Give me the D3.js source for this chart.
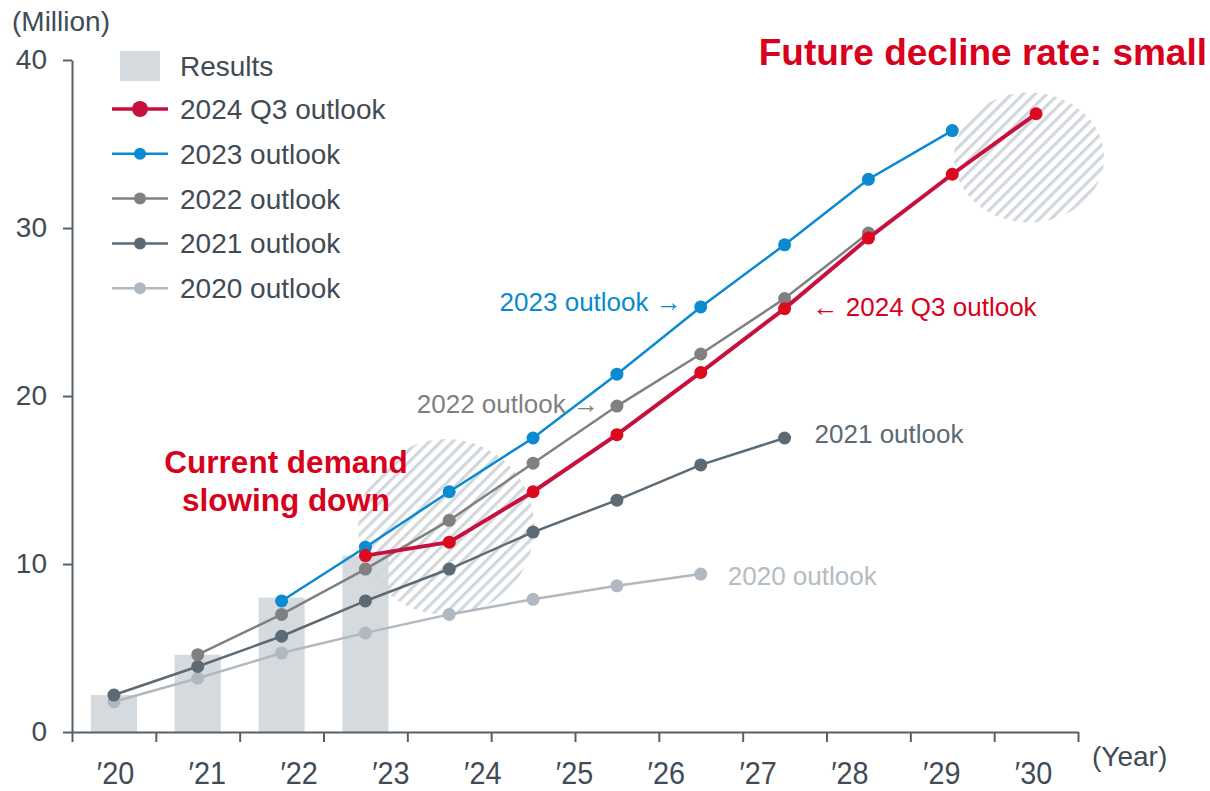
<!DOCTYPE html>
<html>
<head>
<meta charset="utf-8">
<script src="https://cdn.jsdelivr.net/npm/d3@7.9.0/dist/d3.min.js"></script>
<style>
  body { margin: 0; background: #fff; }
  svg { display: block; font-family: "Liberation Sans", Arial, sans-serif; }
</style>
</head>
<body>
<svg id="chart" width="1210" height="791"></svg>
<script>
// x slots (the chart has 12 slots, tick labels are spread over them)
const slots = [2020, 2021, 2022, 2023, 2024, 2025, 2026, 2027, 2028, 2029, 2030, 2031];
const tickLabels = ["′20", "′21", "′22", "′23", "′24", "′25", "′26", "′27", "′28", "′29", "′30"];
const yTicks = [0, 10, 20, 30, 40];

// results (bars), from 2020
const results = [2.2, 4.6, 8.0, 10.5];

// outlook series; each starts at the given slot
const outlook2024Q3 = [10.5, 11.3, 14.3, 17.7, 21.4, 25.2, 29.4, 33.2, 36.8]; // from 2023
const outlook2023 = [7.8, 11.0, 14.3, 17.5, 21.3, 25.3, 29.0, 32.9, 35.8];    // from 2022
const outlook2022 = [4.6, 7.0, 9.7, 12.6, 16.0, 19.4, 22.5, 25.8, 29.7];      // from 2021
const outlook2021 = [2.2, 3.9, 5.7, 7.8, 9.7, 11.9, 13.8, 15.9, 17.5];        // from 2020
const outlook2020 = [1.8, 3.2, 4.7, 5.9, 7.0, 7.9, 8.7, 9.4];                 // from 2020

const red = "#d9001b";
const textColor = "#414b55";
const axisColor = "#56606a";

const series = [
  { name: "2020 outlook", start: 2020, values: outlook2020, line: "#b0b9c1", dot: "#b0b9c1", w: 2.5, r: 6.5 },
  { name: "2021 outlook", start: 2020, values: outlook2021, line: "#5b6a74", dot: "#5b6a74", w: 2.5, r: 6.5 },
  { name: "2022 outlook", start: 2021, values: outlook2022, line: "#808080", dot: "#808080", w: 2.5, r: 6.5 },
  { name: "2023 outlook", start: 2022, values: outlook2023, line: "#0a8ad0", dot: "#0a8ad0", w: 2.5, r: 6.5 },
  { name: "2024 Q3 outlook", start: 2023, values: outlook2024Q3, line: "#c8103e", dot: "#dc0a1e", w: 4, r: 6.5 }
];
series.forEach(s => {
  s.points = s.values.map((v, i) => ({ year: s.start + i, value: v }));
});
const byName = Object.fromEntries(series.map(s => [s.name, s]));

const svg = d3.select("#chart");

const x = d3.scaleBand().domain(slots).range([72, 1078]).paddingInner(0.45).paddingOuter(0.225);
const xc = d => x(d) + x.bandwidth() / 2;
const xEdge = d3.scaleLinear().domain([0, slots.length]).range([72, 1078]);
const xLabel = d3.scalePoint().domain(tickLabels).range([115, 1033]);
const y = d3.scaleLinear().domain([0, 40]).range([732, 60]);

// hatch pattern
const defs = svg.append("defs");
defs.append("pattern")
  .attr("id", "hatch")
  .attr("patternUnits", "userSpaceOnUse")
  .attr("width", 8.3)
  .attr("height", 8.3)
  .attr("patternTransform", "rotate(45)")
  .append("rect")
  .attr("width", 3.2)
  .attr("height", 8.3)
  .attr("fill", "#d2d7dc");

// bars
svg.append("g").selectAll("rect")
  .data(results)
  .join("rect")
  .attr("x", (d, i) => x(slots[i]))
  .attr("width", x.bandwidth())
  .attr("y", d => y(d))
  .attr("height", d => y(0) - y(d))
  .attr("fill", "#d5dade");

// hatched highlight areas
svg.append("ellipse")
  .attr("cx", xc(2024) - 3).attr("cy", y(12.2))
  .attr("rx", 88).attr("ry", 88)
  .attr("fill", "url(#hatch)");
svg.append("ellipse")
  .attr("cx", xc(2031) - 7).attr("cy", y(34.2))
  .attr("rx", 75).attr("ry", 65)
  .attr("fill", "url(#hatch)");

// axes
const yAxis = svg.append("g")
  .attr("transform", "translate(72,0)")
  .call(d3.axisLeft(y).tickValues(yTicks).tickSize(9).tickSizeOuter(0).tickPadding(16));
yAxis.selectAll("text").attr("font-size", 28).attr("fill", textColor).attr("font-family", null);

const xAxis = svg.append("g")
  .attr("transform", "translate(0,732)")
  .call(d3.axisBottom(xEdge).tickValues(d3.range(slots.length + 1)).tickSize(10).tickSizeOuter(0).tickFormat(""));

const xLabels = svg.append("g")
  .attr("transform", "translate(0,732)")
  .call(d3.axisBottom(xLabel).tickSize(0).tickPadding(29));
xLabels.select(".domain").remove();
xLabels.selectAll("text")
  .attr("font-size", 32)
  .attr("font-family", null)
  .attr("fill", textColor)
  .attr("transform", "scale(0.9,1)");

svg.selectAll(".domain, .tick line").attr("stroke", axisColor).attr("stroke-width", 2);

svg.append("text").attr("x", 12).attr("y", 31)
  .attr("font-size", 28).attr("fill", textColor).text("(Million)");
svg.append("text").attr("x", 1092).attr("y", 766)
  .attr("font-size", 28).attr("fill", textColor).text("(Year)");

// lines and dots
const line = d3.line().x(d => xc(d.year)).y(d => y(d.value));
series.forEach(s => {
  const g = svg.append("g");
  g.append("path")
    .datum(s.points)
    .attr("fill", "none")
    .attr("stroke", s.line)
    .attr("stroke-width", s.w)
    .attr("d", line);
  g.selectAll("circle")
    .data(s.points)
    .join("circle")
    .attr("cx", d => xc(d.year))
    .attr("cy", d => y(d.value))
    .attr("r", s.r)
    .attr("fill", s.dot);
});

// legend
const legend = svg.append("g");
legend.append("rect").attr("x", 120).attr("y", 51).attr("width", 40).attr("height", 30).attr("fill", "#d5dade");
legend.append("text").attr("x", 180).attr("y", 76).attr("font-size", 28).attr("fill", textColor).text("Results");
const legendOrder = ["2024 Q3 outlook", "2023 outlook", "2022 outlook", "2021 outlook", "2020 outlook"];
legendOrder.forEach((name, i) => {
  const s = byName[name];
  const cy = 109 + i * 44.8;
  const big = name === "2024 Q3 outlook";
  legend.append("line").attr("x1", 112).attr("x2", 168).attr("y1", cy).attr("y2", cy)
    .attr("stroke", s.line).attr("stroke-width", big ? 3.5 : 2.5);
  legend.append("circle").attr("cx", 140).attr("cy", cy).attr("r", big ? 8 : 6)
    .attr("fill", big ? s.line : s.dot);
  legend.append("text").attr("x", 180).attr("y", cy + 10).attr("font-size", 28)
    .attr("fill", textColor).text(name);
});

// series annotations
const pt = (name, year) => byName[name].points.find(p => p.year === year);
const note = (name, year, dx, dy, anchor, label, color) => {
  const p = pt(name, year);
  svg.append("text")
    .attr("x", xc(p.year) + dx)
    .attr("y", y(p.value) + dy)
    .attr("text-anchor", anchor)
    .attr("font-size", 26)
    .attr("fill", color)
    .text(label);
};
note("2023 outlook", 2027, -19, 4, "end", "2023 outlook →", "#0a8ad0");
note("2022 outlook", 2026, -18, 7, "end", "2022 outlook →", "#808080");
note("2024 Q3 outlook", 2028, 28, 7, "start", "← 2024 Q3 outlook", red);
note("2021 outlook", 2028, 30, 5, "start", "2021 outlook", "#5b6a74");
note("2020 outlook", 2027, 27, 11, "start", "2020 outlook", "#b4bcc4");

// headline annotations
svg.append("text").attr("x", 286).attr("y", 473).attr("text-anchor", "middle")
  .attr("font-size", 31.5).attr("font-weight", "bold").attr("fill", red).text("Current demand");
svg.append("text").attr("x", 286).attr("y", 511).attr("text-anchor", "middle")
  .attr("font-size", 31.5).attr("font-weight", "bold").attr("fill", red).text("slowing down");
svg.append("text").attr("x", 1207).attr("y", 65).attr("text-anchor", "end")
  .attr("font-size", 37).attr("font-weight", "bold").attr("fill", red).text("Future decline rate: small");
</script>
</body>
</html>
